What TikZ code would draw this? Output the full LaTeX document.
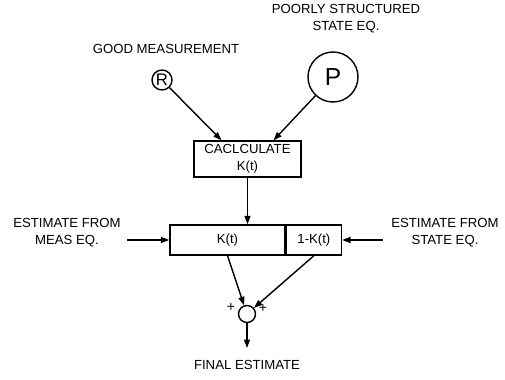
\documentclass[tikz,border=0pt]{standalone}
\usepackage{fontspec}
\setmainfont{Liberation Sans}
\usepackage{tikz}
\usetikzlibrary{shapes,arrows.meta,positioning,calc}

\begin{document}
\begin{tikzpicture}[line width=0.8pt,
    font=\fontsize{7.5}{9.6}\selectfont,
    arr/.style={-{Triangle[length=4.8pt,width=3.4pt]}},
    blk/.style={draw,minimum height=0.6cm,inner sep=1pt},
    txt/.style={align=center,inner sep=1pt}]
    \useasboundingbox (0,0) rectangle (10.1,7.6);

    % inputs to the gain calculation
    \node[txt] (poorlbl) at (6.92,7.23) {POORLY STRUCTURED\\STATE EQ.};
    \node[txt] (goodlbl) at (3.32,6.62) {GOOD MEASUREMENT};
    \node[draw,circle,minimum size=0.4cm,inner sep=0pt,font=\fontsize{9.5}{11}\selectfont] (R) at (3.24,6.0) {R};
    \node[draw,circle,minimum size=1cm,inner sep=0pt,font=\fontsize{14}{16}\selectfont] (P) at (6.66,6.06) {P};

    \node[draw,txt,minimum width=2.14cm,minimum height=0.72cm] (calc) at (4.95,4.42) {CACLCULATE\\K(t)};
    \draw[arr] (R) -- ($(calc.north west)!0.26!(calc.north east)$);
    \draw[arr] (P) -- ($(calc.north west)!0.74!(calc.north east)$);

    % weighting of the two estimates
    \node[blk,minimum width=2.3cm] (kt) at (4.55,2.8) {K(t)};
    \node[blk,minimum width=1.1cm,right=0pt of kt] (omk) {1-K(t)};
    \draw[arr] (calc.south) -- (calc.south |- kt.north);

    \node[txt] (measlbl) at (1.34,2.94) {ESTIMATE FROM\\MEAS EQ.};
    \node[txt] (statelbl) at (8.9,2.94) {ESTIMATE FROM\\STATE EQ.};
    \coordinate (measin) at (2.54,2.8);
    \coordinate (statein) at (7.66,2.8);
    \draw[arr] (measin) -- (kt.west);
    \draw[arr] (statein) -- (omk.east);

    % summation
    \node[draw,circle,minimum size=0.34cm,inner sep=0pt] (sum) at (4.94,1.32) {};
    \node[inner sep=0pt,font=\fontsize{8}{9}\selectfont] (plusl) at (4.62,1.46) {+};
    \node[inner sep=0pt,font=\fontsize{8}{9}\selectfont] (plusr) at (5.26,1.44) {+};
    \draw[arr] (kt.south) -- (sum);
    \draw[arr] (omk.south) -- (sum);

    \node[txt] (final) at (4.94,0.3) {FINAL ESTIMATE};
    \coordinate (out) at (4.94,0.64);
    \draw[arr] (sum) -- (out);
\end{tikzpicture}
\end{document}
